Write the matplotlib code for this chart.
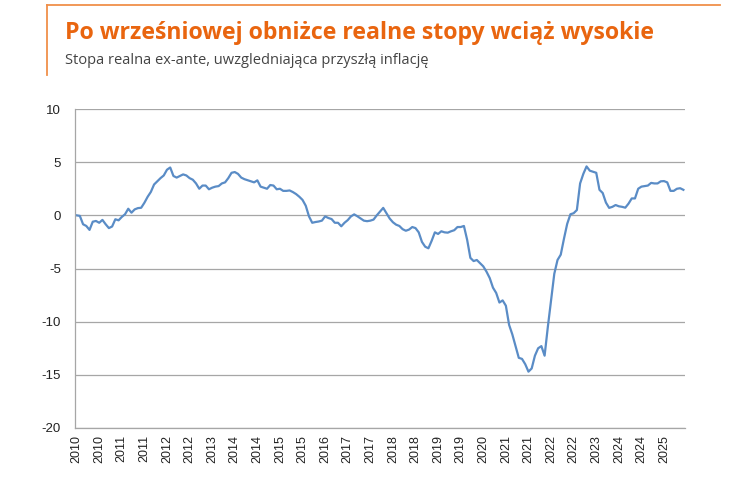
import numpy as np
import matplotlib.pyplot as plt
from matplotlib.lines import Line2D

plt.rcParams['axes.unicode_minus'] = False

rate_2010 = [0.0, -0.05, -0.84, -1.0, -1.37, -0.6, -0.53, -0.7, -0.43, -0.84, -1.2, -1.05]
rate_2011 = [-0.37, -0.47, -0.15, 0.1, 0.62, 0.25, 0.56, 0.68, 0.71, 1.18, 1.74, 2.2]
rate_2012 = [2.9, 3.2, 3.5, 3.75, 4.29, 4.5, 3.7, 3.55, 3.7, 3.85, 3.75, 3.5]
rate_2013 = [3.35, 3.0, 2.5, 2.8, 2.8, 2.45, 2.6, 2.7, 2.75, 3.0, 3.1, 3.5]
rate_2014 = [4.0, 4.07, 3.9, 3.55, 3.4, 3.3, 3.2, 3.1, 3.29, 2.7, 2.6, 2.5]
rate_2015 = [2.85, 2.8, 2.45, 2.5, 2.3, 2.3, 2.34, 2.19, 2.0, 1.75, 1.45, 0.9]
rate_2016 = [-0.1, -0.7, -0.63, -0.58, -0.5, -0.1, -0.25, -0.35, -0.7, -0.7, -1.03, -0.7]
rate_2017 = [-0.45, -0.1, 0.09, -0.09, -0.3, -0.5, -0.55, -0.5, -0.4, 0.0, 0.35, 0.7]
rate_2018 = [0.2, -0.3, -0.65, -0.88, -1.0, -1.3, -1.45, -1.34, -1.1, -1.2, -1.6, -2.5]
rate_2019 = [-2.95, -3.1, -2.4, -1.6, -1.75, -1.5, -1.6, -1.63, -1.5, -1.4, -1.1, -1.1]
rate_2020 = [-1.0, -2.3, -4.0, -4.3, -4.2, -4.5, -4.8, -5.3, -5.9, -6.8, -7.3, -8.2]
rate_2021 = [-8.0, -8.5, -10.3, -11.2, -12.3, -13.4, -13.5, -14.0, -14.7, -14.4, -13.2, -12.5]
rate_2022 = [-12.3, -13.2, -10.5, -8.0, -5.5, -4.2, -3.7, -2.2, -0.8, 0.1, 0.2, 0.5]
rate_2023 = [3.0, 3.9, 4.6, 4.2, 4.1, 4.0, 2.4, 2.1, 1.2, 0.7, 0.8, 0.97]
rate_2024 = [0.85, 0.8, 0.72, 1.1, 1.59, 1.59, 2.5, 2.7, 2.75, 2.8, 3.05, 3.0]
rate_2025 = [3.0, 3.2, 3.22, 3.1, 2.3, 2.3, 2.5, 2.55, 2.4]

rate = np.array(rate_2010 + rate_2011 + rate_2012 + rate_2013 + rate_2014 + rate_2015
                + rate_2016 + rate_2017 + rate_2018 + rate_2019 + rate_2020 + rate_2021
                + rate_2022 + rate_2023 + rate_2024 + rate_2025)
years = [2010 + m // 12 for m in range(len(rate))]

title = 'Po wrześniowej obniżce realne stopy wciąż wysokie'
subtitle = 'Stopa realna ex-ante, uwzgledniająca przyszłą inflację'

orange = '#E9650F'
frame_orange = '#F0904A'
blue = '#5A8CC6'
grid_grey = '#A6A6A6'

fig = plt.figure(figsize=(7.5, 4.83), dpi=100)
ax = fig.add_axes([75 / 750, 55 / 483, 610 / 750, 319 / 483])

x = np.arange(len(rate))
ax.plot(x, rate, color=blue, lw=1.6, solid_joinstyle='round')

ax.set_xlim(-0.5, len(rate) - 0.5)
ax.set_ylim(-20, 10)
ax.set_yticks(range(-20, 11, 5))
ax.yaxis.grid(True, color=grid_grey, lw=0.9)
ax.set_axisbelow(True)
ax.tick_params(axis='y', length=0, pad=10, labelsize=9.5, labelcolor='#222222')

tick_pos = list(range(0, len(rate), 7))
ax.set_xticks(tick_pos)
ax.set_xticklabels([str(years[i]) for i in tick_pos], rotation=90,
                   fontsize=9, color='#222222')
ax.tick_params(axis='x', length=0, pad=5)
for lab in ax.get_yticklabels() + ax.get_xticklabels():
    lab.set_fontfamily('Liberation Sans')

for side in ['top', 'right']:
    ax.spines[side].set_visible(False)
for side in ['left', 'bottom']:
    ax.spines[side].set_color(grid_grey)
    ax.spines[side].set_linewidth(0.9)

# orange header frame
fig.add_artist(Line2D([47 / 750, 720 / 750], [1 - 5 / 483, 1 - 5 / 483],
                      color=frame_orange, lw=1.3, transform=fig.transFigure))
fig.add_artist(Line2D([47 / 750, 47 / 750], [1 - 5 / 483, 1 - 75 / 483],
                      color=frame_orange, lw=1.3, transform=fig.transFigure))

fig.text(65 / 750, 1 - 33 / 483, title, color=orange, fontsize=16.7,
         fontweight='bold', family='Open Sans', va='center', ha='left')
fig.text(65 / 750, 1 - 60 / 483, subtitle, color='#444444', fontsize=10.5,
         family='Open Sans', va='center', ha='left')

fig.savefig('out.png', dpi=100)
